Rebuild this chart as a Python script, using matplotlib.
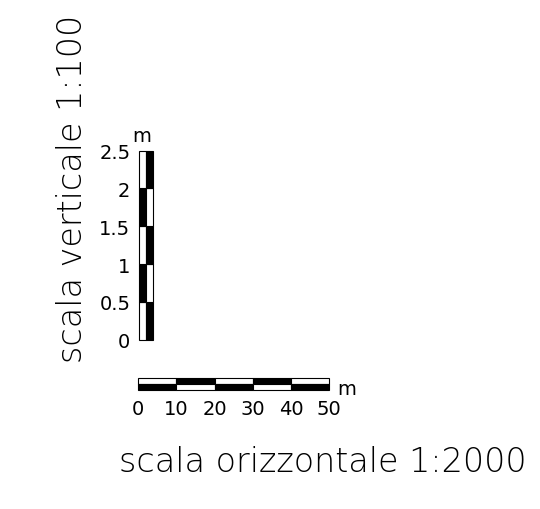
import matplotlib
matplotlib.use('Agg')
import matplotlib.pyplot as plt

plt.rcParams['font.family'] = ['DejaVu Sans']

# Scale bar data
v_ticks = [0, 0.5, 1, 1.5, 2, 2.5]          # vertical scale, metres
v_labels = ['0', '0.5', '1', '1.5', '2', '2.5']
h_ticks = [0, 10, 20, 30, 40, 50]           # horizontal scale, metres
h_labels = ['0', '10', '20', '30', '40', '50']
unit = 'm'
v_title = 'scala verticale 1:100'
h_title = 'scala orizzontale 1:2000'

fig = plt.figure(figsize=(5.4, 5.1), dpi=100)

# Vertical bar: two columns of alternating black/white segments
ax_v = fig.add_axes([0.258, 0.332, 0.0248, 0.3706])
for i in range(len(v_ticks) - 1):
    step = v_ticks[i + 1] - v_ticks[i]
    left_c = 'white' if i % 2 == 0 else 'black'
    right_c = 'black' if i % 2 == 0 else 'white'
    ax_v.bar(0.25, step, width=0.5, bottom=v_ticks[i], color=left_c,
             edgecolor='black', linewidth=0.8, clip_on=False)
    ax_v.bar(0.75, step, width=0.5, bottom=v_ticks[i], color=right_c,
             edgecolor='black', linewidth=0.8, clip_on=False)
ax_v.set_xlim(0, 1)
ax_v.set_ylim(v_ticks[0], v_ticks[-1])
ax_v.set_xticks([])
ax_v.set_yticks(v_ticks)
ax_v.set_yticklabels(v_labels)
ax_v.tick_params(axis='y', length=0, pad=6.5, labelsize=14)
for s in ax_v.spines.values():
    s.set_visible(False)
ax_v.patch.set_visible(False)
ax_v.annotate(unit, xy=(0.2, 1), xycoords='axes fraction', xytext=(0, 7),
              textcoords='offset points', ha='center', va='baseline', fontsize=14)

# Horizontal bar: two rows of alternating segments
ax_h = fig.add_axes([0.2561, 0.2333, 0.3537, 0.0235])
for i in range(len(h_ticks) - 1):
    step = h_ticks[i + 1] - h_ticks[i]
    top_c = 'white' if i % 2 == 0 else 'black'
    bot_c = 'black' if i % 2 == 0 else 'white'
    ax_h.barh(0.75, step, height=0.5, left=h_ticks[i], color=top_c,
              edgecolor='black', linewidth=0.8, clip_on=False)
    ax_h.barh(0.25, step, height=0.5, left=h_ticks[i], color=bot_c,
              edgecolor='black', linewidth=0.8, clip_on=False)
ax_h.set_ylim(0, 1)
ax_h.set_xlim(h_ticks[0], h_ticks[-1])
ax_h.set_yticks([])
ax_h.set_xticks(h_ticks)
ax_h.set_xticklabels(h_labels)
ax_h.tick_params(axis='x', length=0, pad=6.5, labelsize=14)
for s in ax_h.spines.values():
    s.set_visible(False)
ax_h.patch.set_visible(False)
ax_h.annotate(unit, xy=(1, 0), xycoords='axes fraction', xytext=(5.5, -3),
              textcoords='offset points', ha='left', va='baseline', fontsize=14)

# Scale titles
fig.text(82 / 540, 1 - 189 / 510, v_title, rotation=90, rotation_mode='anchor',
         ha='center', va='baseline', fontsize=24, fontweight='light')
fig.text(322.5 / 540, 1 - 472 / 510, h_title,
         ha='center', va='baseline', fontsize=24, fontweight='light')

fig.savefig('out.png', dpi=100, facecolor='white')
